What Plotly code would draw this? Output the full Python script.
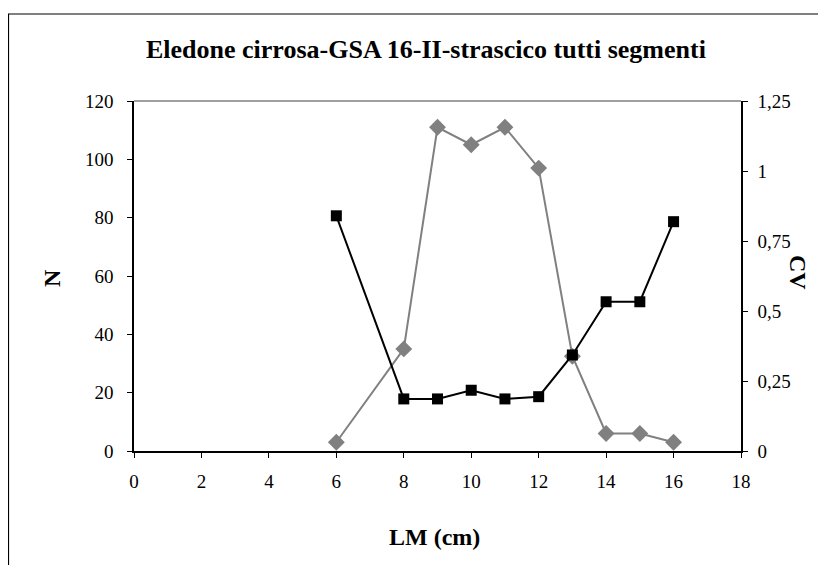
import plotly.graph_objects as go

# Data
lm_cm = [6, 8, 9, 10, 11, 12, 13, 14, 15, 16]
n_values = [3, 35, 111, 105, 111, 97, 32.5, 6, 6, 3]
cv_values = [0.84, 0.186, 0.186, 0.217, 0.186, 0.194, 0.343, 0.533, 0.533, 0.819]

title_text = "Eledone cirrosa-GSA 16-II-strascico tutti segmenti"
x_title = "LM (cm)"
y_title = "N"
y2_title = "CV"

FONT = "'Liberation Serif', 'Times New Roman', Times, serif"
W, H = 826, 565
OFF = 8  # page body margin
# plot area bounds in screen pixels
SL, SR, ST, SB = 134, 741, 101, 451
L, R, T, B = SL - OFF, SR - OFF, ST - OFF, SB - OFF


def px_x(px):
    return (px - SL) / (SR - SL)


def px_y(py):
    return (SB - py) / (SB - ST)


fig = go.Figure()

fig.add_trace(go.Scatter(
    x=lm_cm, y=n_values, mode="lines+markers", name="N",
    line=dict(color="#808080", width=2),
    marker=dict(symbol="diamond", size=13, color="#808080"),
    yaxis="y", cliponaxis=False,
))
fig.add_trace(go.Scatter(
    x=lm_cm, y=cv_values, mode="lines+markers", name="CV",
    line=dict(color="#000000", width=2),
    marker=dict(symbol="square", size=11, color="#000000"),
    yaxis="y2", cliponaxis=False,
))

tickfont = dict(family=FONT, size=19, color="#000000")

fig.update_layout(
    width=W, height=H,
    margin=dict(l=L, r=W - R, t=T, b=H - B, pad=0),
    paper_bgcolor="white", plot_bgcolor="white",
    separators=",.",
    showlegend=False,
    xaxis=dict(
        range=[0, 18], dtick=2, tick0=0,
        showgrid=False, zeroline=False,
        showline=True, linecolor="black", linewidth=1.5,
        ticks="outside", ticklen=5, tickcolor="black", tickwidth=1,
        tickfont=tickfont, ticklabelstandoff=7,
    ),
    yaxis=dict(
        range=[0, 120], dtick=20,
        showgrid=False, zeroline=False,
        showline=True, linecolor="black", linewidth=1.5,
        ticks="outside", ticklen=5, tickcolor="black", tickwidth=1,
        tickfont=tickfont, ticklabelstandoff=10,
    ),
    yaxis2=dict(
        range=[0, 1.25], dtick=0.25, overlaying="y", side="right",
        showgrid=False, zeroline=False,
        showline=True, linecolor="black", linewidth=1.5,
        ticks="outside", ticklen=5, tickcolor="black", tickwidth=1,
        tickfont=tickfont, ticklabelstandoff=6,
    ),
    shapes=[
        # gray top border of the plot area
        dict(type="line", xref="paper", yref="paper", x0=0, x1=1, y0=1, y1=1,
             line=dict(color="#808080", width=1.5)),
        # outer chart border (clipped on the right and bottom in the reference)
        dict(type="rect", xref="paper", yref="paper",
             x0=px_x(8.5), x1=px_x(860), y0=px_y(600), y1=px_y(14),
             line=dict(color="black", width=1.2), fillcolor="rgba(0,0,0,0)"),
    ],
    annotations=[
        dict(text="<b>" + title_text + "</b>", xref="paper", yref="paper",
             x=px_x(426), y=px_y(49), xanchor="center", yanchor="middle",
             showarrow=False, font=dict(family=FONT, size=26, color="black")),
        dict(text="<b>" + x_title + "</b>", xref="paper", yref="paper",
             x=px_x(434), y=px_y(537), xanchor="center", yanchor="middle",
             showarrow=False, font=dict(family=FONT, size=24, color="black")),
        dict(text="<b>" + y_title + "</b>", xref="paper", yref="paper",
             x=px_x(52), y=px_y(278), xanchor="center", yanchor="middle",
             textangle=-90, showarrow=False,
             font=dict(family=FONT, size=24, color="black")),
        dict(text="<b>" + y2_title + "</b>", xref="paper", yref="paper",
             x=px_x(798), y=px_y(272), xanchor="center", yanchor="middle",
             textangle=90, showarrow=False,
             font=dict(family=FONT, size=24, color="black")),
    ],
)

fig.write_html("out.html")
